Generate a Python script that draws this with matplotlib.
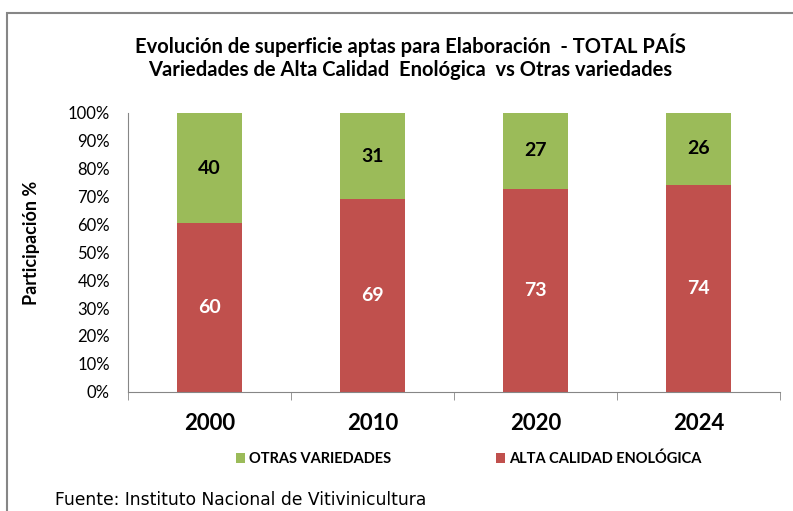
import matplotlib
matplotlib.use("Agg")
import matplotlib.pyplot as plt
from matplotlib.patches import Rectangle
import numpy as np

# datos
anios = ['2000', '2010', '2020', '2024']
alta_calidad = [60.4, 69.1, 72.9, 74.2]
otras = [39.6, 30.9, 27.1, 25.8]
etiq_alta = ['60', '69', '73', '74']
etiq_otras = ['40', '31', '27', '26']

verde = '#9BBB59'
rojo = '#C0504D'
gris = '#868686'

plt.rcParams['font.family'] = ['Lato', 'DejaVu Sans']

fig = plt.figure(figsize=(7.93, 5.11), dpi=100)
ax = fig.add_axes([128/793, 1 - 391.7/511, (780-128)/793, (391.7-113)/511])

x = np.arange(len(anios))
b1 = ax.bar(x, alta_calidad, width=0.4, color=rojo, label='ALTA CALIDAD ENOLÓGICA')
b2 = ax.bar(x, otras, width=0.4, bottom=alta_calidad, color=verde, label='OTRAS VARIEDADES')

for i in range(len(anios)):
    ax.text(x[i], alta_calidad[i] / 2, etiq_alta[i], ha='center', va='center',
            color='white', fontsize=14, fontweight='bold')
    ax.text(x[i], alta_calidad[i] + otras[i] / 2, etiq_otras[i], ha='center', va='center',
            color='black', fontsize=14, fontweight='bold')

ax.set_xlim(-0.5, 3.5)
ax.set_ylim(0, 100)
ax.set_yticks(np.arange(0, 101, 10))
ax.set_yticklabels([f'{v}%' for v in range(0, 101, 10)], fontsize=12)
ax.tick_params(axis='y', length=0, pad=13)
ax.set_xticks(x)
ax.set_xticklabels(anios, fontsize=16, fontweight='bold')
ax.tick_params(axis='x', which='major', length=0, pad=15)
ax.set_xticks(np.arange(-0.5, 4, 1), minor=True)
ax.tick_params(axis='x', which='minor', length=6, color=gris)

for s in ['top', 'right']:
    ax.spines[s].set_visible(False)
ax.spines['left'].set_color(gris)
ax.spines['bottom'].set_color(gris)

fig.text(32/793, 1 - 243/511, 'Participación %', rotation=90, ha='center', va='center',
         fontsize=13, fontweight='bold')

fig.text(410/793, 1 - 45/511, 'Evolución de superficie aptas para Elaboración  - TOTAL PAÍS',
         ha='center', va='center', fontsize=14.5, fontweight='bold')
fig.text(410/793, 1 - 70/511, 'Variedades de Alta Calidad  Enológica  vs Otras variedades',
         ha='center', va='center', fontsize=14.5, fontweight='bold')

fig.legend(handles=[b2, b1], labels=['OTRAS VARIEDADES', 'ALTA CALIDAD ENOLÓGICA'],
           loc='center', bbox_to_anchor=(469/793, 1 - 459/511), ncol=2, frameon=False,
           prop={'weight': 'bold', 'size': 10.5}, handlelength=0.6,
           handleheight=0.6, handletextpad=0.3, columnspacing=7.2)

fig.text(55/793, 1 - 500/511, 'Fuente: Instituto Nacional de Vitivinicultura',
         ha='left', va='center', fontsize=12.3, family=['DejaVu Sans'])

fig.patches.append(Rectangle((7/793, -0.1), 1.2, 1 - 13/511 + 0.1, transform=fig.transFigure,
                             fill=False, edgecolor=gris, linewidth=1.5))

fig.savefig('out.png', dpi=100)
